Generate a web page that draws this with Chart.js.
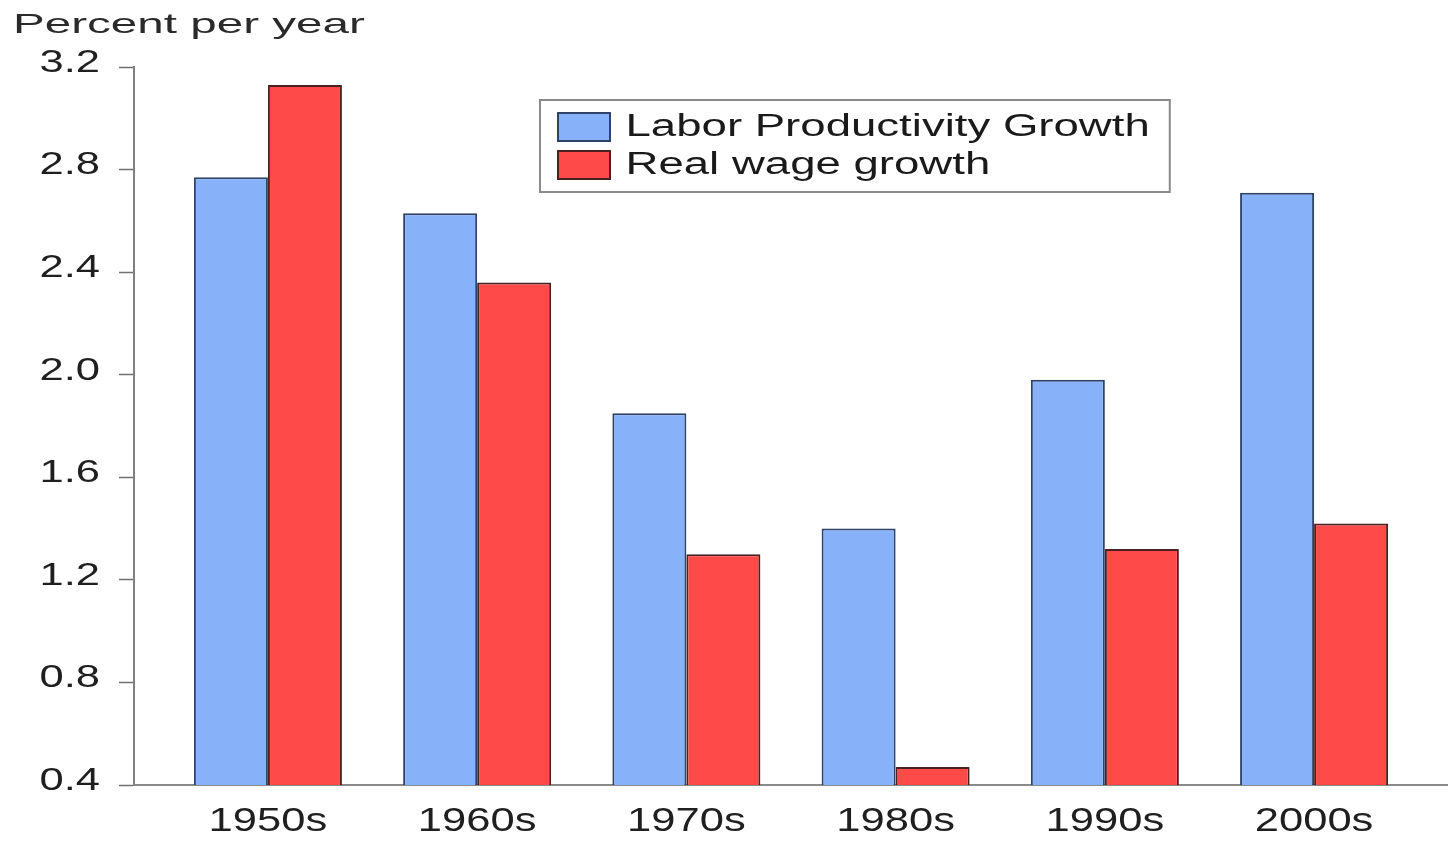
<!DOCTYPE html>
<html>
<head>
<meta charset="utf-8">
<script src="https://cdn.jsdelivr.net/npm/chart.js@4.4.1/dist/chart.umd.min.js"></script>
<style>
  html, body { margin: 0; padding: 0; background: #ffffff; }
  #wrap { width: 1448px; height: 842px; position: relative; }
</style>
</head>
<body>
<div id="wrap"><canvas id="chart"></canvas></div>
<script>
// ---- data ----
const categories = ['1950s', '1960s', '1970s', '1980s', '1990s', '2000s'];
const laborProductivityGrowth = [2.77, 2.63, 1.85, 1.40, 1.98, 2.71];
const realWageGrowth = [3.13, 2.36, 1.30, 0.47, 1.32, 1.42];
const yTickValues = [0.4, 0.8, 1.2, 1.6, 2.0, 2.4, 2.8, 3.2];
const seriesNames = ['Labor Productivity Growth', 'Real wage growth'];
const axisTitle = 'Percent per year';

// ---- styling ----
const FONT = "'Liberation Sans', Arial, sans-serif";
const TEXT = '#1f1f1f';
// horizontal widening of text, keyed by font size (the source image is stretched)
const textStretch = { 28: 1.7, 31: 1.47, 32: 1.36, 34: 1.28 };

function stretchFor(ctx) {
  const m = /(\d+(?:\.\d+)?)px/.exec(ctx.font);
  if (!m) return 1;
  return textStretch[Math.round(parseFloat(m[1]))] || 1;
}

const wideText = {
  id: 'wideText',
  beforeInit(chart) {
    const ctx = chart.ctx;
    const fill = ctx.fillText.bind(ctx);
    const measure = ctx.measureText.bind(ctx);
    ctx.fillText = function (t, x, y) {
      const s = stretchFor(ctx);
      if (s === 1) return fill(t, x, y);
      ctx.save();
      ctx.translate(x, y);
      ctx.scale(s, 1);
      fill(t, 0, 0);
      ctx.restore();
    };
    ctx.measureText = function (t) {
      const m = measure(t);
      const s = stretchFor(ctx);
      if (s === 1) return m;
      return {
        width: m.width * s,
        actualBoundingBoxAscent: m.actualBoundingBoxAscent,
        actualBoundingBoxDescent: m.actualBoundingBoxDescent,
        actualBoundingBoxLeft: m.actualBoundingBoxLeft * s,
        actualBoundingBoxRight: m.actualBoundingBoxRight * s
      };
    };
  }
};

const legendPlacer = {
  id: 'legendPlacer',
  afterLayout(chart) {
    const lg = chart.legend;
    if (!lg) return;
    const w = lg.width;
    lg.left = 551;
    lg.top = 104.5;
    lg.right = lg.left + w;
    lg.bottom = lg.top + 300;
  },
  afterDraw(chart) {
    const lg = chart.legend;
    if (!lg) return;
    const ctx = chart.ctx;
    const col = (lg.columnSizes && lg.columnSizes[0]) ? lg.columnSizes[0].width : 0;
    const x0 = lg.left - 11, y0 = lg.top - 4.5;
    const x1 = lg.left + 7 + col + 20, y1 = y0 + 92;
    ctx.save();
    ctx.strokeStyle = '#8a8a8a';
    ctx.lineWidth = 2;
    ctx.strokeRect(x0, y0, x1 - x0, y1 - y0);
    ctx.restore();
  }
};

const xMin = -0.64, xMax = categories.length - 1 + 0.64;

new Chart(document.getElementById('chart'), {
  type: 'bar',
  data: {
    datasets: [
      {
        label: seriesNames[0],
        data: laborProductivityGrowth.map((v, i) => ({ x: i, y: v })),
        backgroundColor: '#87B2FA',
        borderColor: '#2f4369',
        borderWidth: 2,
        categoryPercentage: 0.7075,
        barPercentage: 1.0
      },
      {
        label: seriesNames[1],
        data: realWageGrowth.map((v, i) => ({ x: i, y: v })),
        backgroundColor: '#FF4A4A',
        borderColor: '#4a2020',
        borderWidth: 2,
        categoryPercentage: 0.7075,
        barPercentage: 1.0
      }
    ]
  },
  options: {
    responsive: true,
    maintainAspectRatio: false,
    animation: false,
    layout: { padding: { left: 13, right: 0, top: 0, bottom: 0 } },
    plugins: {
      title: {
        display: true,
        text: axisTitle,
        align: 'start',
        color: '#2a2a2a',
        font: { family: FONT, size: 28, weight: 'normal' },
        padding: { top: 8.5, bottom: 24.9 }
      },
      legend: {
        display: true,
        position: 'chartArea',
        align: 'start',
        labels: {
          color: '#1a1a1a',
          font: { family: FONT, size: 31 },
          boxWidth: 52,
          boxHeight: 28,
          padding: 7
        }
      },
      tooltip: { enabled: false }
    },
    scales: {
      x: {
        type: 'linear',
        offset: false,
        min: xMin,
        max: xMax,
        afterBuildTicks: (s) => { s.ticks = categories.map((_, i) => ({ value: i })); },
        afterFit: (s) => { s.height = 57; },
        ticks: {
          callback: (v) => categories[v] ?? '',
          font: { family: FONT, size: 34 },
          color: TEXT,
          padding: 16,
          maxRotation: 0,
          autoSkip: false
        },
        grid: { offset: false, drawOnChartArea: false, drawTicks: false },
        border: { color: '#8a8a8a', width: 2 }
      },
      y: {
        min: yTickValues[0],
        max: yTickValues[yTickValues.length - 1],
        afterBuildTicks: (s) => { s.ticks = yTickValues.map((v) => ({ value: v })); },
        afterFit: (s) => { s.width = 121; },
        ticks: {
          callback: (v) => Number(v).toFixed(1),
          font: { family: FONT, size: 32 },
          color: TEXT,
          padding: 19,
          labelOffset: -4
        },
        grid: { drawOnChartArea: false, drawTicks: true, tickLength: 15, tickColor: '#707070', tickWidth: 1.5 },
        border: { color: '#808080', width: 2 }
      }
    }
  },
  plugins: [wideText, legendPlacer]
});
</script>
</body>
</html>
